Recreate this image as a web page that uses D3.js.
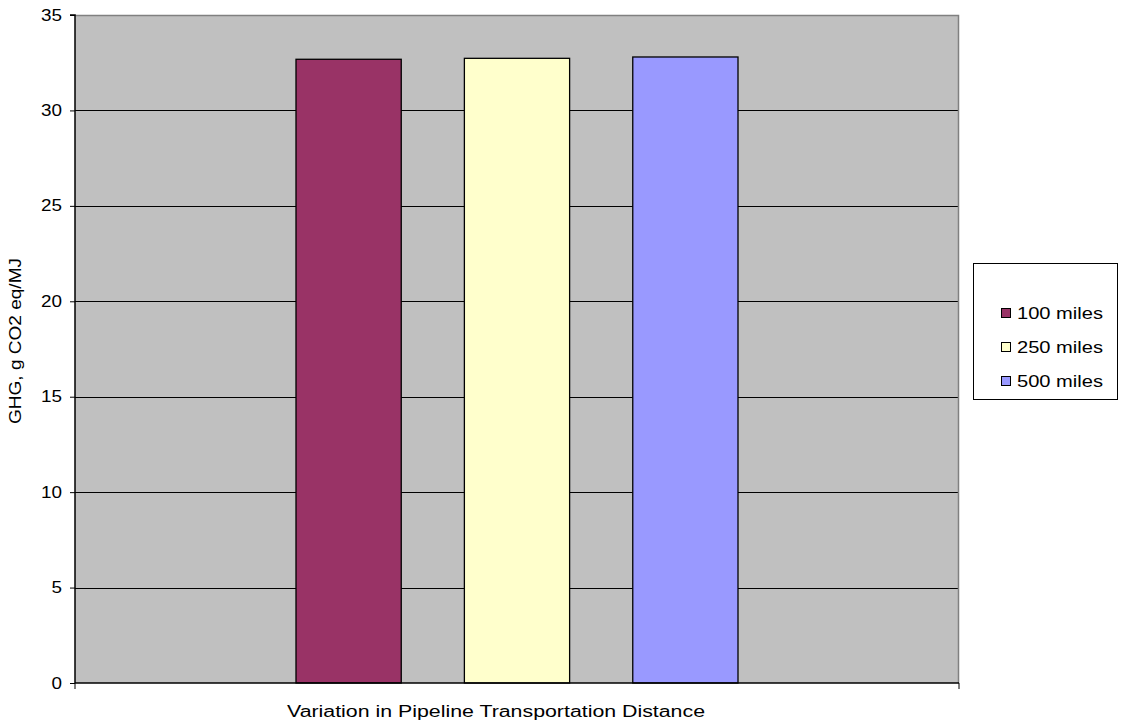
<!DOCTYPE html>
<html>
<head>
<meta charset="utf-8">
<script src="https://cdn.jsdelivr.net/npm/d3@7"></script>
<style>
  html, body { margin: 0; padding: 0; background: #ffffff; }
  svg { display: block; font-family: "Liberation Sans", Arial, sans-serif; }
</style>
</head>
<body>
<svg id="chart" width="1127" height="725"></svg>
<script>
// Lifecycle GHG emissions by pipeline transportation distance
const categories = ["Variation in Pipeline Transportation Distance"];
const seriesNames = ["100 miles", "250 miles", "500 miles"];
const seriesValues = [32.68, 32.73, 32.80];
const seriesColors = ["#993366", "#FFFFCC", "#9999FF"];
const yTicks = [0, 5, 10, 15, 20, 25, 30, 35];
const yLabel = "GHG, g CO2 eq/MJ";

const svg = d3.select("#chart");
const plot = { left: 75, top: 15, right: 959, bottom: 683 };
const W = plot.right - plot.left, H = plot.bottom - plot.top;
const FONT = 16;

const y = d3.scaleLinear().domain([0, 35]).range([plot.bottom, plot.top]);
const x0 = d3.scaleBand().domain(categories).range([plot.left, plot.right]).padding(1 / 3);
const x1 = d3.scaleBand().domain(seriesNames).range([0, x0.bandwidth()])
  .paddingInner(0.375).paddingOuter(0);

// plot background
svg.append("rect")
  .attr("x", plot.left).attr("y", plot.top)
  .attr("width", W).attr("height", H)
  .attr("fill", "#C0C0C0");

// horizontal gridlines
svg.append("g")
  .selectAll("line")
  .data(yTicks.filter(t => t > 0 && t < 35))
  .join("line")
  .attr("x1", plot.left).attr("x2", plot.right)
  .attr("y1", d => Math.round(y(d)) + 0.5).attr("y2", d => Math.round(y(d)) + 0.5)
  .attr("stroke", "#000").attr("stroke-width", 1);

// top and right frame of the plot area
svg.append("path")
  .attr("d", `M${plot.left},${plot.top + 0.5}H${plot.right - 0.5}V${plot.bottom}`)
  .attr("fill", "none").attr("stroke", "#808080").attr("stroke-width", 1.5);

// bars
const group = svg.append("g")
  .attr("transform", `translate(${x0(categories[0])},0)`);
group.selectAll("rect")
  .data(seriesNames.map((s, i) => ({ name: s, value: seriesValues[i], color: seriesColors[i] })))
  .join("rect")
  .attr("x", d => x1(d.name))
  .attr("y", d => y(d.value))
  .attr("width", x1.bandwidth())
  .attr("height", d => y(0) - y(d.value))
  .attr("fill", d => d.color)
  .attr("stroke", "#000").attr("stroke-width", 1.3);

// y axis
const yAxis = d3.axisLeft(y).tickValues(yTicks).tickSize(5).tickPadding(8).tickFormat(d3.format("d"));
const gy = svg.append("g").attr("transform", `translate(${plot.left},0)`).call(yAxis);
gy.select(".domain").attr("stroke", "#000").attr("stroke-width", 1.5).attr("d", `M-5,${plot.top}H0V${plot.bottom}`);
gy.selectAll(".tick line").attr("stroke", "#000");
gy.selectAll(".tick text")
  .attr("font-size", FONT).attr("fill", "#000")
  .attr("font-family", "'Liberation Sans', Arial, sans-serif")
  .attr("textLength", d => String(d).length * 10.5)
  .attr("lengthAdjust", "spacingAndGlyphs");

// x axis: baseline plus boundary ticks
const gx = svg.append("g");
gx.append("line")
  .attr("x1", plot.left).attr("x2", plot.right)
  .attr("y1", plot.bottom).attr("y2", plot.bottom)
  .attr("stroke", "#000").attr("stroke-width", 1.5);
gx.selectAll(".xt")
  .data([plot.left, plot.right])
  .join("line")
  .attr("x1", d => d).attr("x2", d => d)
  .attr("y1", plot.bottom).attr("y2", plot.bottom + 6)
  .attr("stroke", "#000").attr("stroke-width", 1);

// category title below axis
svg.append("text")
  .attr("x", 496)
  .attr("y", 717)
  .attr("text-anchor", "middle")
  .attr("font-size", FONT)
  .attr("textLength", 418)
  .attr("lengthAdjust", "spacingAndGlyphs")
  .text(categories[0]);

// y axis title
svg.append("text")
  .attr("transform", `translate(21,341) rotate(-90)`)
  .attr("text-anchor", "middle")
  .attr("font-size", FONT)
  .attr("textLength", 166)
  .attr("lengthAdjust", "spacingAndGlyphs")
  .text(yLabel);

// legend
const leg = svg.append("g");
leg.append("rect")
  .attr("x", 973.5).attr("y", 263.5)
  .attr("width", 144).attr("height", 136)
  .attr("fill", "#fff").attr("stroke", "#000").attr("stroke-width", 1);
const rows = leg.selectAll(".row")
  .data(seriesNames)
  .join("g")
  .attr("transform", (d, i) => `translate(1001,${313 + i * 34})`);
rows.append("rect")
  .attr("x", 0.5).attr("y", -4.5)
  .attr("width", 9).attr("height", 9)
  .attr("fill", (d, i) => seriesColors[i])
  .attr("stroke", "#000").attr("stroke-width", 1);
rows.append("text")
  .attr("x", 16).attr("y", 6)
  .attr("font-size", FONT)
  .attr("textLength", 86)
  .attr("lengthAdjust", "spacingAndGlyphs")
  .text(d => d);
</script>
</body>
</html>
